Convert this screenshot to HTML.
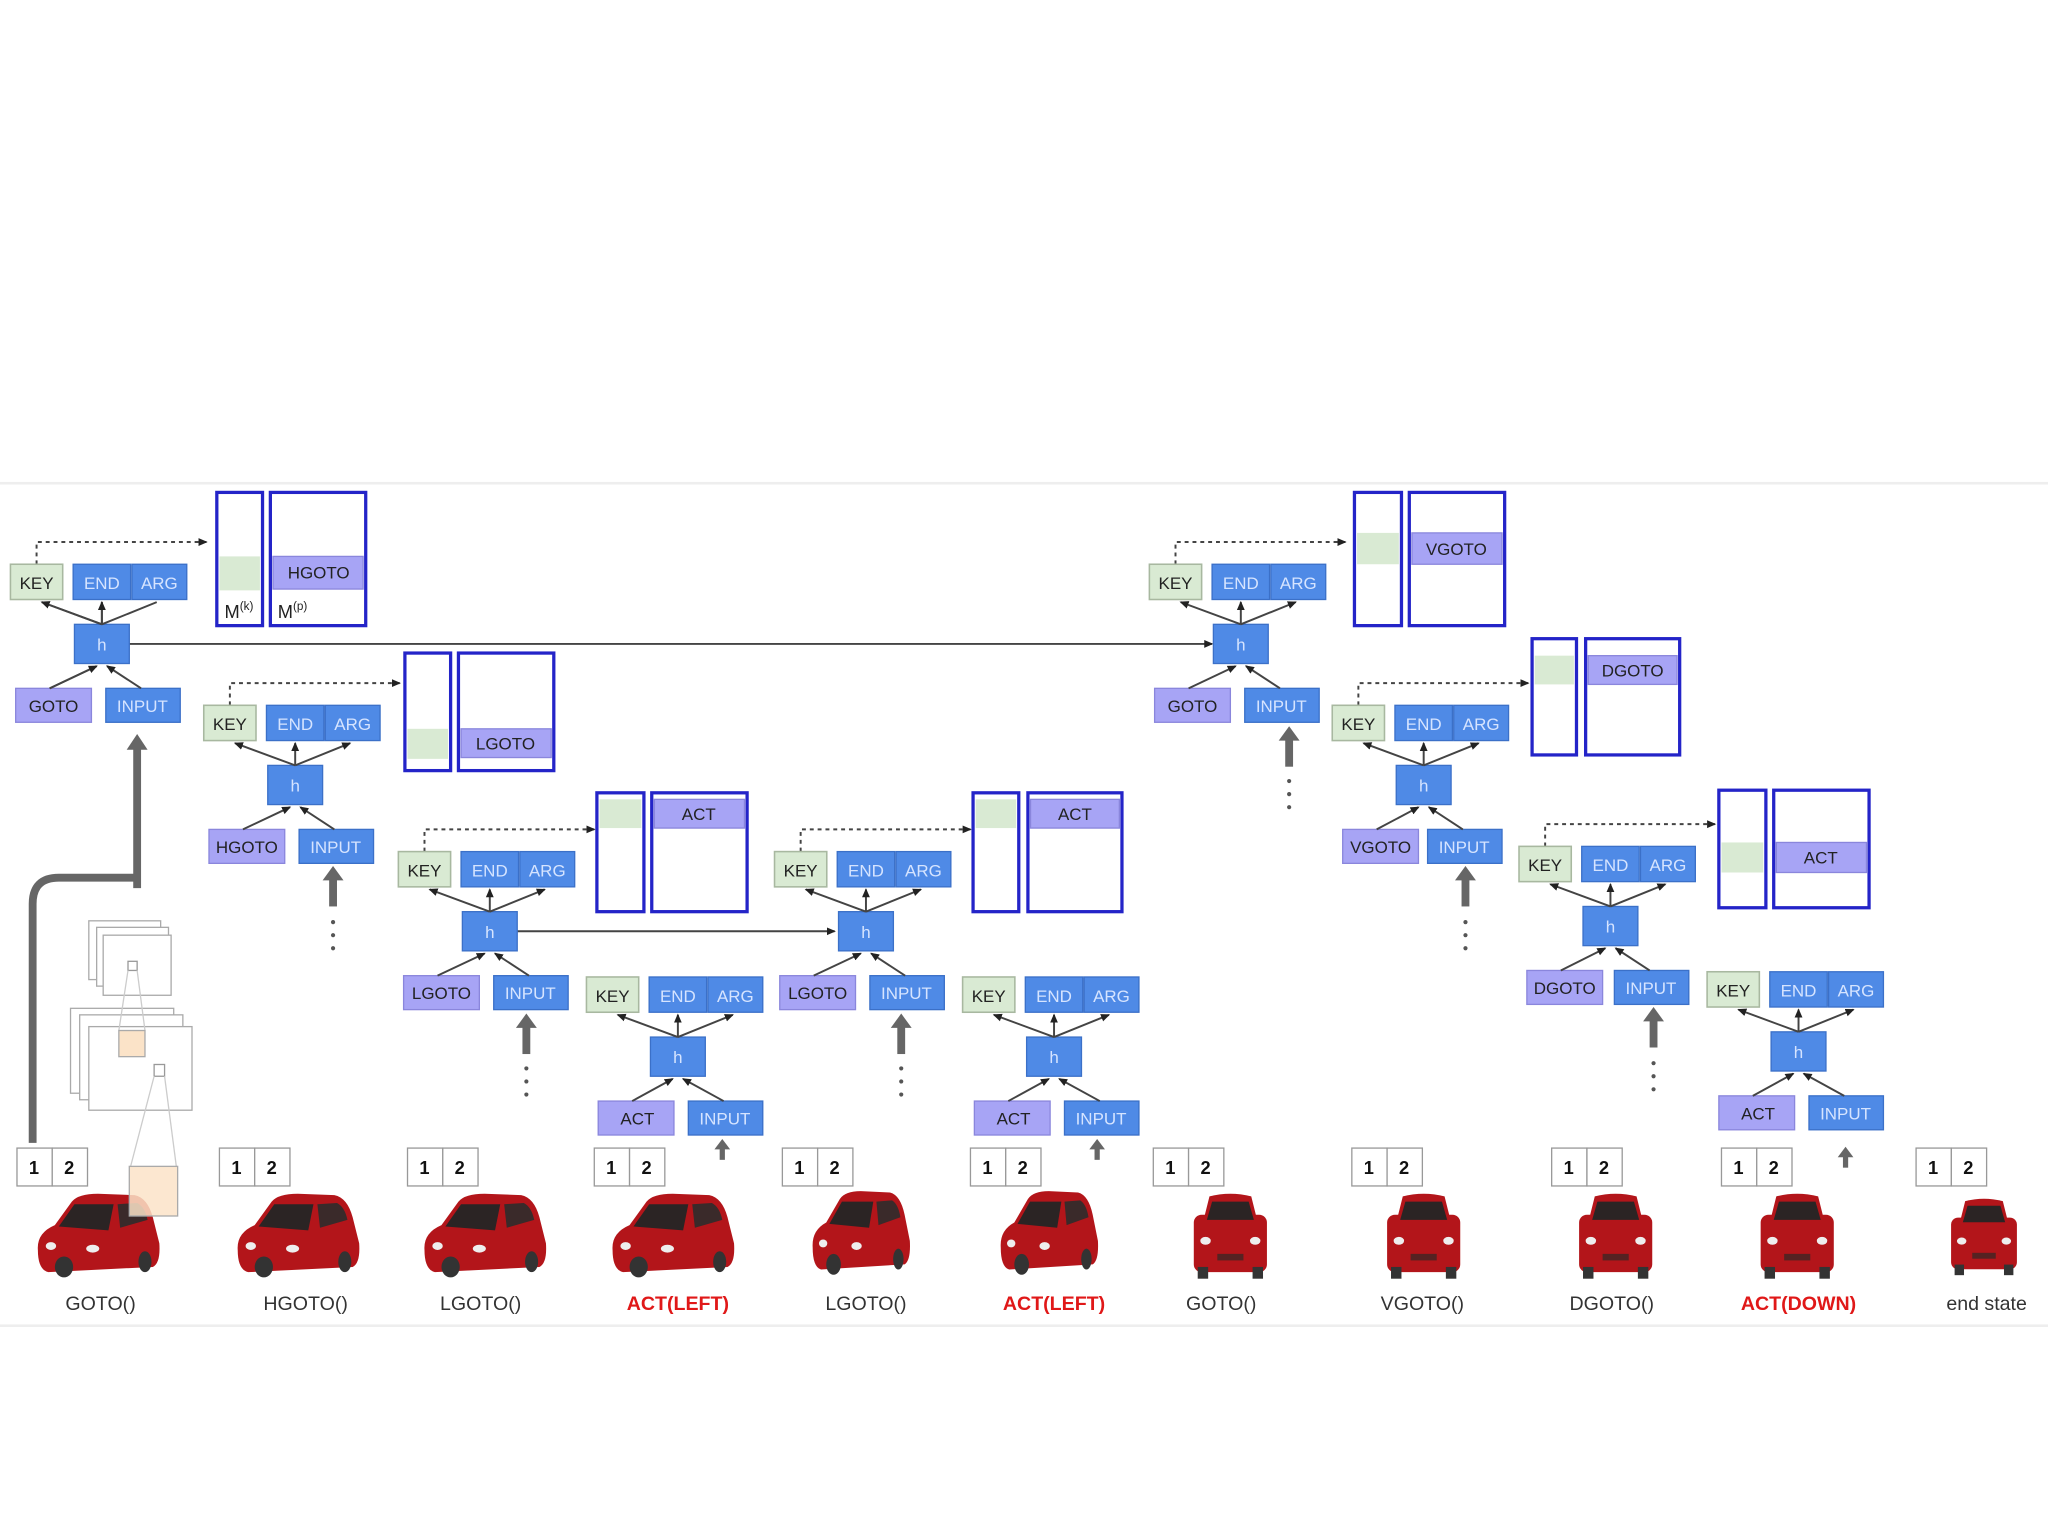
<!DOCTYPE html>
<html><head><meta charset="utf-8"><style>
html,body{margin:0;padding:0;background:#fff;}
svg{display:block;}
text{font-family:"Liberation Sans",sans-serif;font-size:13px;text-anchor:middle;}
.k{fill:#d9ead3;stroke:#a8b8a0;stroke-width:1.2;}
.b{fill:#4f8ae6;stroke:#3b70c8;stroke-width:1;}
.p{fill:#a7a4f5;stroke:#8a86dc;stroke-width:1;}
.w{fill:#d6e4ff;}
.d{fill:#222;}
.ln{stroke:#444;stroke-width:1.5;fill:none;}
.dot{stroke:#444;stroke-width:1.5;fill:none;stroke-dasharray:3,3;}
.m{fill:#fff;stroke:#2424c8;stroke-width:2.5;}
.lab{font-size:15px;fill:#333;}
.red{fill:#e01818;font-weight:bold;}
.cell{fill:#fff;stroke:#999;stroke-width:1;}
.num{font-size:14px;font-weight:bold;fill:#111;}
.ga{fill:#666;}
</style></head><body>
<svg width="2048" height="1536" viewBox="0 0 1568 1176" xmlns="http://www.w3.org/2000/svg">
<defs>
<marker id="a" markerWidth="8" markerHeight="8" refX="6" refY="4" orient="auto" markerUnits="userSpaceOnUse"><path d="M0,1 L7,4 L0,7Z" fill="#222"/></marker>
</defs>
<rect x="0" y="369" width="1568" height="2" fill="#eee"/>
<rect x="0" y="1014" width="1568" height="2" fill="#eee"/>

<!-- long h connections -->
<line x1="99" y1="493" x2="928" y2="493" class="ln" marker-end="url(#a)"/>
<line x1="395" y1="713" x2="639" y2="713" class="ln" marker-end="url(#a)"/>

<!-- Units -->
<g transform="translate(8,432)">
<path d="M20,0 V-17 H150" class="dot" marker-end="url(#a)"/>
<rect x="0" y="0" width="40" height="27" class="k"/><text x="20" y="19" class="d">KEY</text>
<rect x="48" y="0" width="44" height="27" class="b"/><text x="70" y="19" class="w">END</text>
<rect x="93" y="0" width="42" height="27" class="b"/><text x="114" y="19" class="w">ARG</text>
<rect x="49" y="46" width="42" height="30" class="b"/><text x="70" y="66" class="w">h</text>
<rect x="4" y="95" width="58" height="26" class="p"/><text x="33" y="113" class="d">GOTO</text>
<rect x="73" y="95" width="57" height="26" class="b"/><text x="101" y="113" class="w">INPUT</text>
<path d="M70,46 L24,29 M70,46 V29 M70,46 L112,29 M30,95 L66,78 M100,95 L74,78" class="ln" marker-end="url(#a)"/>
<path d="M70,46 L24,29" class="ln" marker-end="url(#a)"/><path d="M70,46 V29" class="ln" marker-end="url(#a)"/><path d="M30,95 L66,78" class="ln" marker-end="url(#a)"/>
</g>
<g transform="translate(156,540)">
<path d="M20,0 V-17 H150" class="dot" marker-end="url(#a)"/>
<rect x="0" y="0" width="40" height="27" class="k"/><text x="20" y="19" class="d">KEY</text>
<rect x="48" y="0" width="44" height="27" class="b"/><text x="70" y="19" class="w">END</text>
<rect x="93" y="0" width="42" height="27" class="b"/><text x="114" y="19" class="w">ARG</text>
<rect x="49" y="46" width="42" height="30" class="b"/><text x="70" y="66" class="w">h</text>
<rect x="4" y="95" width="58" height="26" class="p"/><text x="33" y="113" class="d">HGOTO</text>
<rect x="73" y="95" width="57" height="26" class="b"/><text x="101" y="113" class="w">INPUT</text>
<path d="M70,46 L24,29" class="ln" marker-end="url(#a)"/><path d="M70,46 V29" class="ln" marker-end="url(#a)"/><path d="M70,46 L112,29" class="ln" marker-end="url(#a)"/><path d="M30,95 L66,78" class="ln" marker-end="url(#a)"/><path d="M100,95 L74,78" class="ln" marker-end="url(#a)"/>
</g>
<g transform="translate(305,652)">
<path d="M20,0 V-17 H150" class="dot" marker-end="url(#a)"/>
<rect x="0" y="0" width="40" height="27" class="k"/><text x="20" y="19" class="d">KEY</text>
<rect x="48" y="0" width="44" height="27" class="b"/><text x="70" y="19" class="w">END</text>
<rect x="93" y="0" width="42" height="27" class="b"/><text x="114" y="19" class="w">ARG</text>
<rect x="49" y="46" width="42" height="30" class="b"/><text x="70" y="66" class="w">h</text>
<rect x="4" y="95" width="58" height="26" class="p"/><text x="33" y="113" class="d">LGOTO</text>
<rect x="73" y="95" width="57" height="26" class="b"/><text x="101" y="113" class="w">INPUT</text>
<path d="M70,46 L24,29" class="ln" marker-end="url(#a)"/><path d="M70,46 V29" class="ln" marker-end="url(#a)"/><path d="M70,46 L112,29" class="ln" marker-end="url(#a)"/><path d="M30,95 L66,78" class="ln" marker-end="url(#a)"/><path d="M100,95 L74,78" class="ln" marker-end="url(#a)"/>
</g>
<g transform="translate(449,748)">
<rect x="0" y="0" width="40" height="27" class="k"/><text x="20" y="19" class="d">KEY</text>
<rect x="48" y="0" width="44" height="27" class="b"/><text x="70" y="19" class="w">END</text>
<rect x="93" y="0" width="42" height="27" class="b"/><text x="114" y="19" class="w">ARG</text>
<rect x="49" y="46" width="42" height="30" class="b"/><text x="70" y="66" class="w">h</text>
<rect x="9" y="95" width="58" height="26" class="p"/><text x="39" y="113" class="d">ACT</text>
<rect x="78" y="95" width="57" height="26" class="b"/><text x="106" y="113" class="w">INPUT</text>
<path d="M70,46 L24,29" class="ln" marker-end="url(#a)"/><path d="M70,46 V29" class="ln" marker-end="url(#a)"/><path d="M70,46 L112,29" class="ln" marker-end="url(#a)"/><path d="M35,95 L66,78" class="ln" marker-end="url(#a)"/><path d="M105,95 L74,78" class="ln" marker-end="url(#a)"/>
</g>
<g transform="translate(593,652)">
<path d="M20,0 V-17 H150" class="dot" marker-end="url(#a)"/>
<rect x="0" y="0" width="40" height="27" class="k"/><text x="20" y="19" class="d">KEY</text>
<rect x="48" y="0" width="44" height="27" class="b"/><text x="70" y="19" class="w">END</text>
<rect x="93" y="0" width="42" height="27" class="b"/><text x="114" y="19" class="w">ARG</text>
<rect x="49" y="46" width="42" height="30" class="b"/><text x="70" y="66" class="w">h</text>
<rect x="4" y="95" width="58" height="26" class="p"/><text x="33" y="113" class="d">LGOTO</text>
<rect x="73" y="95" width="57" height="26" class="b"/><text x="101" y="113" class="w">INPUT</text>
<path d="M70,46 L24,29" class="ln" marker-end="url(#a)"/><path d="M70,46 V29" class="ln" marker-end="url(#a)"/><path d="M70,46 L112,29" class="ln" marker-end="url(#a)"/><path d="M30,95 L66,78" class="ln" marker-end="url(#a)"/><path d="M100,95 L74,78" class="ln" marker-end="url(#a)"/>
</g>
<g transform="translate(737,748)">
<rect x="0" y="0" width="40" height="27" class="k"/><text x="20" y="19" class="d">KEY</text>
<rect x="48" y="0" width="44" height="27" class="b"/><text x="70" y="19" class="w">END</text>
<rect x="93" y="0" width="42" height="27" class="b"/><text x="114" y="19" class="w">ARG</text>
<rect x="49" y="46" width="42" height="30" class="b"/><text x="70" y="66" class="w">h</text>
<rect x="9" y="95" width="58" height="26" class="p"/><text x="39" y="113" class="d">ACT</text>
<rect x="78" y="95" width="57" height="26" class="b"/><text x="106" y="113" class="w">INPUT</text>
<path d="M70,46 L24,29" class="ln" marker-end="url(#a)"/><path d="M70,46 V29" class="ln" marker-end="url(#a)"/><path d="M70,46 L112,29" class="ln" marker-end="url(#a)"/><path d="M35,95 L66,78" class="ln" marker-end="url(#a)"/><path d="M105,95 L74,78" class="ln" marker-end="url(#a)"/>
</g>
<g transform="translate(880,432)">
<path d="M20,0 V-17 H150" class="dot" marker-end="url(#a)"/>
<rect x="0" y="0" width="40" height="27" class="k"/><text x="20" y="19" class="d">KEY</text>
<rect x="48" y="0" width="44" height="27" class="b"/><text x="70" y="19" class="w">END</text>
<rect x="93" y="0" width="42" height="27" class="b"/><text x="114" y="19" class="w">ARG</text>
<rect x="49" y="46" width="42" height="30" class="b"/><text x="70" y="66" class="w">h</text>
<rect x="4" y="95" width="58" height="26" class="p"/><text x="33" y="113" class="d">GOTO</text>
<rect x="73" y="95" width="57" height="26" class="b"/><text x="101" y="113" class="w">INPUT</text>
<path d="M70,46 L24,29" class="ln" marker-end="url(#a)"/><path d="M70,46 V29" class="ln" marker-end="url(#a)"/><path d="M70,46 L112,29" class="ln" marker-end="url(#a)"/><path d="M30,95 L66,78" class="ln" marker-end="url(#a)"/><path d="M100,95 L74,78" class="ln" marker-end="url(#a)"/>
</g>
<g transform="translate(1020,540)">
<path d="M20,0 V-17 H150" class="dot" marker-end="url(#a)"/>
<rect x="0" y="0" width="40" height="27" class="k"/><text x="20" y="19" class="d">KEY</text>
<rect x="48" y="0" width="44" height="27" class="b"/><text x="70" y="19" class="w">END</text>
<rect x="93" y="0" width="42" height="27" class="b"/><text x="114" y="19" class="w">ARG</text>
<rect x="49" y="46" width="42" height="30" class="b"/><text x="70" y="66" class="w">h</text>
<rect x="8" y="95" width="58" height="26" class="p"/><text x="37" y="113" class="d">VGOTO</text>
<rect x="73" y="95" width="57" height="26" class="b"/><text x="101" y="113" class="w">INPUT</text>
<path d="M70,46 L24,29" class="ln" marker-end="url(#a)"/><path d="M70,46 V29" class="ln" marker-end="url(#a)"/><path d="M70,46 L112,29" class="ln" marker-end="url(#a)"/><path d="M34,95 L66,78" class="ln" marker-end="url(#a)"/><path d="M100,95 L74,78" class="ln" marker-end="url(#a)"/>
</g>
<g transform="translate(1163,648)">
<path d="M20,0 V-17 H150" class="dot" marker-end="url(#a)"/>
<rect x="0" y="0" width="40" height="27" class="k"/><text x="20" y="19" class="d">KEY</text>
<rect x="48" y="0" width="44" height="27" class="b"/><text x="70" y="19" class="w">END</text>
<rect x="93" y="0" width="42" height="27" class="b"/><text x="114" y="19" class="w">ARG</text>
<rect x="49" y="46" width="42" height="30" class="b"/><text x="70" y="66" class="w">h</text>
<rect x="6" y="95" width="58" height="26" class="p"/><text x="35" y="113" class="d">DGOTO</text>
<rect x="73" y="95" width="57" height="26" class="b"/><text x="101" y="113" class="w">INPUT</text>
<path d="M70,46 L24,29" class="ln" marker-end="url(#a)"/><path d="M70,46 V29" class="ln" marker-end="url(#a)"/><path d="M70,46 L112,29" class="ln" marker-end="url(#a)"/><path d="M32,95 L66,78" class="ln" marker-end="url(#a)"/><path d="M100,95 L74,78" class="ln" marker-end="url(#a)"/>
</g>
<g transform="translate(1307,744)">
<rect x="0" y="0" width="40" height="27" class="k"/><text x="20" y="19" class="d">KEY</text>
<rect x="48" y="0" width="44" height="27" class="b"/><text x="70" y="19" class="w">END</text>
<rect x="93" y="0" width="42" height="27" class="b"/><text x="114" y="19" class="w">ARG</text>
<rect x="49" y="46" width="42" height="30" class="b"/><text x="70" y="66" class="w">h</text>
<rect x="9" y="95" width="58" height="26" class="p"/><text x="39" y="113" class="d">ACT</text>
<rect x="78" y="95" width="57" height="26" class="b"/><text x="106" y="113" class="w">INPUT</text>
<path d="M70,46 L24,29" class="ln" marker-end="url(#a)"/><path d="M70,46 V29" class="ln" marker-end="url(#a)"/><path d="M70,46 L112,29" class="ln" marker-end="url(#a)"/><path d="M35,95 L66,78" class="ln" marker-end="url(#a)"/><path d="M105,95 L74,78" class="ln" marker-end="url(#a)"/>
</g>

<!-- Memories -->
<rect x="166" y="377" width="35" height="102" class="m"/><rect x="168" y="426" width="31" height="26" fill="#d9ead3"/>
<rect x="207" y="377" width="73" height="102" class="m"/><rect x="209" y="426" width="69" height="25" class="p" stroke="none"/><text x="244" y="443" class="d">HGOTO</text>
<text x="183" y="473" class="d" style="font-size:14px">M<tspan font-size="9" dy="-6">(k)</tspan></text>
<text x="224" y="473" class="d" style="font-size:14px">M<tspan font-size="9" dy="-6">(p)</tspan></text>

<rect x="310" y="500" width="35" height="90" class="m"/><rect x="312" y="558" width="31" height="23" fill="#d9ead3"/>
<rect x="351" y="500" width="73" height="90" class="m"/><rect x="353" y="558" width="69" height="22" class="p" stroke="none"/><text x="387" y="574" class="d">LGOTO</text>

<rect x="457" y="607" width="36" height="91" class="m"/><rect x="459" y="612" width="32" height="22" fill="#d9ead3"/>
<rect x="499" y="607" width="73" height="91" class="m"/><rect x="501" y="612" width="69" height="22" class="p" stroke="none"/><text x="535" y="628" class="d">ACT</text>

<rect x="745" y="607" width="35" height="91" class="m"/><rect x="747" y="612" width="31" height="22" fill="#d9ead3"/>
<rect x="787" y="607" width="72" height="91" class="m"/><rect x="789" y="612" width="68" height="22" class="p" stroke="none"/><text x="823" y="628" class="d">ACT</text>

<rect x="1037" y="377" width="36" height="102" class="m"/><rect x="1039" y="408" width="32" height="24" fill="#d9ead3"/>
<rect x="1079" y="377" width="73" height="102" class="m"/><rect x="1081" y="408" width="69" height="24" class="p" stroke="none"/><text x="1115" y="425" class="d">VGOTO</text>

<rect x="1173" y="489" width="34" height="89" class="m"/><rect x="1175" y="502" width="30" height="22" fill="#d9ead3"/>
<rect x="1214" y="489" width="72" height="89" class="m"/><rect x="1216" y="502" width="68" height="22" class="p" stroke="none"/><text x="1250" y="518" class="d">DGOTO</text>

<rect x="1316" y="605" width="36" height="90" class="m"/><rect x="1318" y="645" width="32" height="23" fill="#d9ead3"/>
<rect x="1358" y="605" width="73" height="90" class="m"/><rect x="1360" y="645" width="69" height="23" class="p" stroke="none"/><text x="1394" y="661" class="d">ACT</text>

<!-- thick arrows -->
<path d="M105,680 V572" stroke="#666" stroke-width="6" fill="none"/><path d="M97,574 L105,562 L113,574Z" class="ga"/>
<path d="M105,672 H45 Q25,672 25,692 V875" stroke="#666" stroke-width="6" fill="none"/>
<g class="ga">
<rect x="252" y="672" width="6" height="22"/><path d="M247,674 L255,663 L263,674Z"/>
<rect x="400" y="785" width="6" height="22"/><path d="M395,787 L403,776 L411,787Z"/>
<rect x="687" y="785" width="6" height="22"/><path d="M682,787 L690,776 L698,787Z"/>
<rect x="984" y="565" width="6" height="22"/><path d="M979,567 L987,556 L995,567Z"/>
<rect x="1119" y="672" width="6" height="22"/><path d="M1114,674 L1122,663 L1130,674Z"/>
<rect x="1263" y="780" width="6" height="22"/><path d="M1258,782 L1266,771 L1274,782Z"/>
<rect x="551" y="878" width="4" height="10"/><path d="M547,880 L553,872 L559,880Z"/>
<rect x="838" y="878" width="4" height="10"/><path d="M834,880 L840,872 L846,880Z"/>
<rect x="1411" y="884" width="4" height="10"/><path d="M1407,886 L1413,878 L1419,886Z"/>
</g>
<g fill="#555">
<circle cx="255" cy="706" r="1.6"/><circle cx="255" cy="716" r="1.6"/><circle cx="255" cy="726" r="1.6"/>
<circle cx="403" cy="818" r="1.6"/><circle cx="403" cy="828" r="1.6"/><circle cx="403" cy="838" r="1.6"/>
<circle cx="690" cy="818" r="1.6"/><circle cx="690" cy="828" r="1.6"/><circle cx="690" cy="838" r="1.6"/>
<circle cx="987" cy="598" r="1.6"/><circle cx="987" cy="608" r="1.6"/><circle cx="987" cy="618" r="1.6"/>
<circle cx="1122" cy="706" r="1.6"/><circle cx="1122" cy="716" r="1.6"/><circle cx="1122" cy="726" r="1.6"/>
<circle cx="1266" cy="814" r="1.6"/><circle cx="1266" cy="824" r="1.6"/><circle cx="1266" cy="834" r="1.6"/>
</g>

<!-- CNN stack -->
<g fill="#fff" stroke="#aaa" stroke-width="1">
<rect x="68" y="705" width="55" height="45"/><rect x="74" y="710" width="55" height="45"/><rect x="79" y="716" width="52" height="46"/>
<rect x="54" y="772" width="79" height="65"/><rect x="61" y="777" width="79" height="65"/><rect x="68" y="786" width="79" height="64"/>
</g>
<rect x="98" y="736" width="7" height="7" fill="#fff" stroke="#999"/>
<line x1="98" y1="743" x2="91" y2="789" stroke="#ccc"/><line x1="105" y1="743" x2="111" y2="789" stroke="#ccc"/>
<rect x="91" y="789" width="20" height="20" fill="#fbe3c8" stroke="#aaa"/>
<rect x="118" y="815" width="8" height="9" fill="#fff" stroke="#999"/>
<line x1="118" y1="824" x2="100" y2="893" stroke="#ccc"/><line x1="126" y1="824" x2="135" y2="893" stroke="#ccc"/>

<!-- number cells -->
<g>
<g transform="translate(13,879)"><rect width="27" height="29" class="cell"/><rect x="27" width="27" height="29" class="cell"/><text x="13" y="20" class="num">1</text><text x="40" y="20" class="num">2</text></g>
<g transform="translate(168,879)"><rect width="27" height="29" class="cell"/><rect x="27" width="27" height="29" class="cell"/><text x="13" y="20" class="num">1</text><text x="40" y="20" class="num">2</text></g>
<g transform="translate(312,879)"><rect width="27" height="29" class="cell"/><rect x="27" width="27" height="29" class="cell"/><text x="13" y="20" class="num">1</text><text x="40" y="20" class="num">2</text></g>
<g transform="translate(455,879)"><rect width="27" height="29" class="cell"/><rect x="27" width="27" height="29" class="cell"/><text x="13" y="20" class="num">1</text><text x="40" y="20" class="num">2</text></g>
<g transform="translate(599,879)"><rect width="27" height="29" class="cell"/><rect x="27" width="27" height="29" class="cell"/><text x="13" y="20" class="num">1</text><text x="40" y="20" class="num">2</text></g>
<g transform="translate(743,879)"><rect width="27" height="29" class="cell"/><rect x="27" width="27" height="29" class="cell"/><text x="13" y="20" class="num">1</text><text x="40" y="20" class="num">2</text></g>
<g transform="translate(883,879)"><rect width="27" height="29" class="cell"/><rect x="27" width="27" height="29" class="cell"/><text x="13" y="20" class="num">1</text><text x="40" y="20" class="num">2</text></g>
<g transform="translate(1035,879)"><rect width="27" height="29" class="cell"/><rect x="27" width="27" height="29" class="cell"/><text x="13" y="20" class="num">1</text><text x="40" y="20" class="num">2</text></g>
<g transform="translate(1188,879)"><rect width="27" height="29" class="cell"/><rect x="27" width="27" height="29" class="cell"/><text x="13" y="20" class="num">1</text><text x="40" y="20" class="num">2</text></g>
<g transform="translate(1318,879)"><rect width="27" height="29" class="cell"/><rect x="27" width="27" height="29" class="cell"/><text x="13" y="20" class="num">1</text><text x="40" y="20" class="num">2</text></g>
<g transform="translate(1467,879)"><rect width="27" height="29" class="cell"/><rect x="27" width="27" height="29" class="cell"/><text x="13" y="20" class="num">1</text><text x="40" y="20" class="num">2</text></g>
</g>

<!-- cars: angled -->
<g id="cars">
<g transform="translate(25,912)">
<path d="M4,45 Q3,32 17,26 L30,8 Q35,2 50,2 L78,3 Q88,5 92,20 L97,40 Q98,55 92,58 L12,62 Q4,60 4,45Z" fill="#b3151a"/>
<path d="M20,27 L32,10 L62,10 L58,30Z" fill="#2b2424"/><path d="M65,10 L80,9 Q86,12 88,22 L67,28Z" fill="#3a2a2a"/>
<ellipse cx="24" cy="58" rx="7" ry="8" fill="#333"/><ellipse cx="86" cy="54" rx="5" ry="8" fill="#333"/>
<ellipse cx="14" cy="42" rx="4" ry="3" fill="#eee"/><ellipse cx="46" cy="44" rx="5" ry="3" fill="#eee"/>
</g>
<g transform="translate(178,912)">
<path d="M4,45 Q3,32 17,26 L30,8 Q35,2 50,2 L78,3 Q88,5 92,20 L97,40 Q98,55 92,58 L12,62 Q4,60 4,45Z" fill="#b3151a"/>
<path d="M20,27 L32,10 L62,10 L58,30Z" fill="#2b2424"/><path d="M65,10 L80,9 Q86,12 88,22 L67,28Z" fill="#3a2a2a"/>
<ellipse cx="24" cy="58" rx="7" ry="8" fill="#333"/><ellipse cx="86" cy="54" rx="5" ry="8" fill="#333"/>
<ellipse cx="14" cy="42" rx="4" ry="3" fill="#eee"/><ellipse cx="46" cy="44" rx="5" ry="3" fill="#eee"/>
</g>
<g transform="translate(321,912)">
<path d="M4,45 Q3,32 17,26 L30,8 Q35,2 50,2 L78,3 Q88,5 92,20 L97,40 Q98,55 92,58 L12,62 Q4,60 4,45Z" fill="#b3151a"/>
<path d="M20,27 L32,10 L62,10 L58,30Z" fill="#2b2424"/><path d="M65,10 L80,9 Q86,12 88,22 L67,28Z" fill="#3a2a2a"/>
<ellipse cx="24" cy="58" rx="7" ry="8" fill="#333"/><ellipse cx="86" cy="54" rx="5" ry="8" fill="#333"/>
<ellipse cx="14" cy="42" rx="4" ry="3" fill="#eee"/><ellipse cx="46" cy="44" rx="5" ry="3" fill="#eee"/>
</g>
<g transform="translate(465,912)">
<path d="M4,45 Q3,32 17,26 L30,8 Q35,2 50,2 L78,3 Q88,5 92,20 L97,40 Q98,55 92,58 L12,62 Q4,60 4,45Z" fill="#b3151a"/>
<path d="M20,27 L32,10 L62,10 L58,30Z" fill="#2b2424"/><path d="M65,10 L80,9 Q86,12 88,22 L67,28Z" fill="#3a2a2a"/>
<ellipse cx="24" cy="58" rx="7" ry="8" fill="#333"/><ellipse cx="86" cy="54" rx="5" ry="8" fill="#333"/>
<ellipse cx="14" cy="42" rx="4" ry="3" fill="#eee"/><ellipse cx="46" cy="44" rx="5" ry="3" fill="#eee"/>
</g>
<g transform="translate(619,910) scale(0.8,1)">
<path d="M4,45 Q3,32 17,26 L30,8 Q35,2 50,2 L78,3 Q88,5 92,20 L97,40 Q98,55 92,58 L12,62 Q4,60 4,45Z" fill="#b3151a"/>
<path d="M20,27 L32,10 L62,10 L58,30Z" fill="#2b2424"/><path d="M65,10 L80,9 Q86,12 88,22 L67,28Z" fill="#3a2a2a"/>
<ellipse cx="24" cy="58" rx="7" ry="8" fill="#333"/><ellipse cx="86" cy="54" rx="5" ry="8" fill="#333"/>
<ellipse cx="14" cy="42" rx="4" ry="3" fill="#eee"/><ellipse cx="46" cy="44" rx="5" ry="3" fill="#eee"/>
</g>
<g transform="translate(763,910) scale(0.8,1)">
<path d="M4,45 Q3,32 17,26 L30,8 Q35,2 50,2 L78,3 Q88,5 92,20 L97,40 Q98,55 92,58 L12,62 Q4,60 4,45Z" fill="#b3151a"/>
<path d="M20,27 L32,10 L62,10 L58,30Z" fill="#2b2424"/><path d="M65,10 L80,9 Q86,12 88,22 L67,28Z" fill="#3a2a2a"/>
<ellipse cx="24" cy="58" rx="7" ry="8" fill="#333"/><ellipse cx="86" cy="54" rx="5" ry="8" fill="#333"/>
<ellipse cx="14" cy="42" rx="4" ry="3" fill="#eee"/><ellipse cx="46" cy="44" rx="5" ry="3" fill="#eee"/>
</g>
</g>
<!-- front cars -->
<g transform="translate(912,912)">
<path d="M10,20 L14,4 Q30,0 46,4 L50,20Z" fill="#b3151a"/><rect x="2" y="18" width="56" height="44" rx="6" fill="#b3151a"/>
<path d="M12,22 L16,8 L44,8 L48,22Z" fill="#2b2424"/><rect x="5" y="58" width="8" height="9" fill="#333"/><rect x="47" y="58" width="8" height="9" fill="#333"/>
<ellipse cx="11" cy="38" rx="4" ry="3" fill="#eee"/><ellipse cx="49" cy="38" rx="4" ry="3" fill="#eee"/><rect x="20" y="48" width="20" height="5" fill="#522"/>
</g>
<g transform="translate(1060,912)">
<path d="M10,20 L14,4 Q30,0 46,4 L50,20Z" fill="#b3151a"/><rect x="2" y="18" width="56" height="44" rx="6" fill="#b3151a"/>
<path d="M12,22 L16,8 L44,8 L48,22Z" fill="#2b2424"/><rect x="5" y="58" width="8" height="9" fill="#333"/><rect x="47" y="58" width="8" height="9" fill="#333"/>
<ellipse cx="11" cy="38" rx="4" ry="3" fill="#eee"/><ellipse cx="49" cy="38" rx="4" ry="3" fill="#eee"/><rect x="20" y="48" width="20" height="5" fill="#522"/>
</g>
<g transform="translate(1207,912)">
<path d="M10,20 L14,4 Q30,0 46,4 L50,20Z" fill="#b3151a"/><rect x="2" y="18" width="56" height="44" rx="6" fill="#b3151a"/>
<path d="M12,22 L16,8 L44,8 L48,22Z" fill="#2b2424"/><rect x="5" y="58" width="8" height="9" fill="#333"/><rect x="47" y="58" width="8" height="9" fill="#333"/>
<ellipse cx="11" cy="38" rx="4" ry="3" fill="#eee"/><ellipse cx="49" cy="38" rx="4" ry="3" fill="#eee"/><rect x="20" y="48" width="20" height="5" fill="#522"/>
</g>
<g transform="translate(1346,912)">
<path d="M10,20 L14,4 Q30,0 46,4 L50,20Z" fill="#b3151a"/><rect x="2" y="18" width="56" height="44" rx="6" fill="#b3151a"/>
<path d="M12,22 L16,8 L44,8 L48,22Z" fill="#2b2424"/><rect x="5" y="58" width="8" height="9" fill="#333"/><rect x="47" y="58" width="8" height="9" fill="#333"/>
<ellipse cx="11" cy="38" rx="4" ry="3" fill="#eee"/><ellipse cx="49" cy="38" rx="4" ry="3" fill="#eee"/><rect x="20" y="48" width="20" height="5" fill="#522"/>
</g>
<g transform="translate(1492,916) scale(0.9)">
<path d="M10,20 L14,4 Q30,0 46,4 L50,20Z" fill="#b3151a"/><rect x="2" y="18" width="56" height="44" rx="6" fill="#b3151a"/>
<path d="M12,22 L16,8 L44,8 L48,22Z" fill="#2b2424"/><rect x="5" y="58" width="8" height="9" fill="#333"/><rect x="47" y="58" width="8" height="9" fill="#333"/>
<ellipse cx="11" cy="38" rx="4" ry="3" fill="#eee"/><ellipse cx="49" cy="38" rx="4" ry="3" fill="#eee"/><rect x="20" y="48" width="20" height="5" fill="#522"/>
</g>

<!-- orange bottom square over car -->
<rect x="99" y="893" width="37" height="38" fill="#fbe3c8" fill-opacity="0.85" stroke="#aaa"/>

<!-- labels -->
<text x="77" y="1003" class="lab">GOTO()</text>
<text x="234" y="1003" class="lab">HGOTO()</text>
<text x="368" y="1003" class="lab">LGOTO()</text>
<text x="519" y="1003" class="lab red">ACT(LEFT)</text>
<text x="663" y="1003" class="lab">LGOTO()</text>
<text x="807" y="1003" class="lab red">ACT(LEFT)</text>
<text x="935" y="1003" class="lab">GOTO()</text>
<text x="1089" y="1003" class="lab">VGOTO()</text>
<text x="1234" y="1003" class="lab">DGOTO()</text>
<text x="1377" y="1003" class="lab red">ACT(DOWN)</text>
<text x="1521" y="1003" class="lab">end state</text>
</svg>
</body></html>
